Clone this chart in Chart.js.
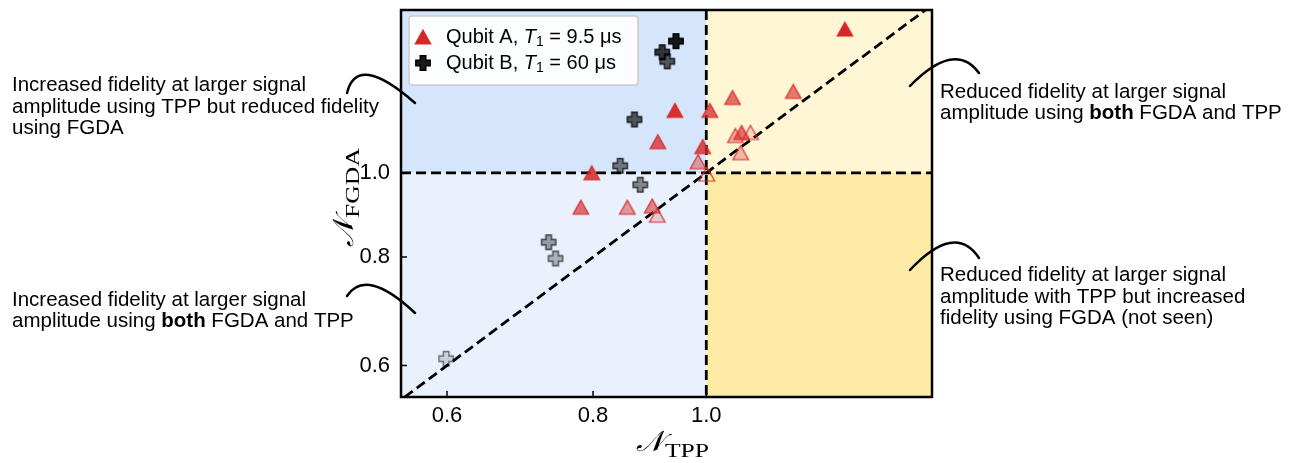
<!DOCTYPE html>
<html>
<head>
<meta charset="utf-8">
<script src="https://cdn.jsdelivr.net/npm/chart.js@4.4.1/dist/chart.umd.min.js"></script>
<style>
  html, body { margin: 0; padding: 0; background: #fff; }
</style>
</head>
<body>
<canvas id="myChart" width="1301" height="463"></canvas>
<script>
// Qubit A (T1 = 9.5 us): normalised fidelities
const qubitA_tpp  = [1.314, 1.187, 1.053, 1.007, 0.940, 0.909, 0.993, 0.984, 1.001, 1.059, 1.072, 1.091, 1.070, 0.798, 0.781, 0.856, 0.899, 0.908];
const qubitA_fgda = [1.464, 1.241, 1.221, 1.180, 1.180, 1.086, 1.072, 1.030, 0.997, 1.104, 1.113, 1.113, 1.055, 1.000, 0.913, 0.913, 0.916, 0.894];
// Qubit B (T1 = 60 us)
const qubitB_tpp  = [0.942, 0.917, 0.926, 0.868, 0.844, 0.878, 0.733, 0.743, 0.599];
const qubitB_fgda = [1.418, 1.377, 1.344, 1.152, 1.019, 0.969, 0.832, 0.797, 0.611];

// marker opacity per point (style only)
const qubitA_shade = [1.0, 0.6, 0.65, 0.75, 0.95, 0.75, 0.8, 0.4, 0.0, 0.35, 0.65, 0.15, 0.3, 0.85, 0.65, 0.45, 0.55, 0.2];
const qubitB_shade = [1.0, 0.85, 0.7, 0.7, 0.55, 0.5, 0.4, 0.3, 0.15];

const tickValues = [0.6, 0.8, 1.0];
const legendNames = ['Qubit A', 'Qubit B'];
const legendT1 = ['9.5', '60'];

const SANS = '"Liberation Sans", Arial, sans-serif';
const SERIF = '"DejaVu Serif", "Liberation Serif", serif';
const RED = '214,39,40';

function makeTri(a) {
  const c = document.createElement('canvas');
  c.width = 22; c.height = 22;
  const g = c.getContext('2d');
  g.translate(11, 11);
  g.beginPath();
  g.moveTo(0, -7); g.lineTo(7.8, 7); g.lineTo(-7.8, 7); g.closePath();
  g.fillStyle = 'rgba(' + RED + ',' + a + ')';
  g.fill();
  g.lineWidth = 1.2;
  g.strokeStyle = 'rgba(' + RED + ',0.95)';
  g.stroke();
  return c;
}

function makePlus(a) {
  const c = document.createElement('canvas');
  c.width = 22; c.height = 22;
  const g = c.getContext('2d');
  const h = 7.2, w = 2.8;
  g.translate(11, 11);
  g.beginPath();
  g.moveTo(-w, -h); g.lineTo(w, -h); g.lineTo(w, -w); g.lineTo(h, -w); g.lineTo(h, w); g.lineTo(w, w);
  g.lineTo(w, h); g.lineTo(-w, h); g.lineTo(-w, w); g.lineTo(-h, w); g.lineTo(-h, -w); g.lineTo(-w, -w);
  g.closePath();
  g.fillStyle = 'rgba(0,0,0,' + (a * 0.9) + ')';
  g.fill();
  g.lineWidth = 1.4;
  g.strokeStyle = 'rgba(0,0,0,' + (0.45 + 0.55 * a) + ')';
  g.stroke();
  return c;
}

function toPoints(xs, ys) {
  return xs.map((v, i) => ({x: v, y: ys[i]}));
}

// text with bold pieces
function drawRich(ctx, parts, x, y, size) {
  let cx = x;
  parts.forEach(p => {
    ctx.font = (p[1] ? 'bold ' : '') + size + 'px ' + SANS;
    ctx.fillText(p[0], cx, y);
    cx += ctx.measureText(p[0]).width;
  });
}

function curve(ctx, x0, y0, cx, cy, x1, y1) {
  ctx.beginPath();
  ctx.moveTo(x0, y0);
  ctx.quadraticCurveTo(cx, cy, x1, y1);
  ctx.stroke();
}

function drawNLabel(ctx, sub, x, y, angle) {
  const stretch = 1.35;
  ctx.save();
  ctx.translate(x, y);
  ctx.rotate(angle);
  ctx.fillStyle = '#000';
  ctx.textBaseline = 'alphabetic';
  ctx.font = 'italic 29px ' + SERIF;
  const n = '\u{1D4A9}';
  const wN = ctx.measureText(n).width;
  ctx.font = '19px "Liberation Serif", serif';
  const wS = ctx.measureText(sub).width * stretch;
  const start = -(wN + wS) / 2;
  ctx.font = 'italic 29px ' + SERIF;
  ctx.fillText(n, start, 0);
  ctx.font = '19px "Liberation Serif", serif';
  ctx.translate(start + wN + 1, 6);
  ctx.scale(stretch, 1);
  ctx.fillText(sub, 0, 0);
  ctx.restore();
}

const decor = {
  id: 'decor',
  beforeDatasetsDraw(chart) {
    const {ctx, chartArea: {left, right, top, bottom}, scales: {x, y}} = chart;
    const x1 = x.getPixelForValue(1), y1 = y.getPixelForValue(1);
    ctx.save();
    ctx.fillStyle = '#d5e5fb'; ctx.fillRect(left, top, x1 - left, y1 - top);
    ctx.fillStyle = '#e9f1fd'; ctx.fillRect(left, y1, x1 - left, bottom - y1);
    ctx.fillStyle = '#fff6d6'; ctx.fillRect(x1, top, right - x1, y1 - top);
    ctx.fillStyle = '#ffeba6'; ctx.fillRect(x1, y1, right - x1, bottom - y1);

    ctx.strokeStyle = '#000';
    ctx.lineWidth = 2.8;
    ctx.setLineDash([10, 5]);
    ctx.beginPath();
    ctx.moveTo(left, y1); ctx.lineTo(right, y1);
    ctx.moveTo(x1, top); ctx.lineTo(x1, bottom);
    const lo = Math.max(x.min, y.min), hi = Math.min(x.max, y.max);
    ctx.moveTo(x.getPixelForValue(lo), y.getPixelForValue(lo));
    ctx.lineTo(x.getPixelForValue(hi), y.getPixelForValue(hi));
    ctx.stroke();
    ctx.restore();
  },
  afterDatasetsDraw(chart) {
    const {ctx, chartArea: {left, right, top, bottom}, scales: {x, y}} = chart;
    ctx.save();
    ctx.strokeStyle = '#000';
    ctx.lineWidth = 1.5;
    ctx.beginPath();
    tickValues.forEach(v => {
      const px = x.getPixelForValue(v);
      ctx.moveTo(px, bottom); ctx.lineTo(px, bottom - 6);
      const py = y.getPixelForValue(v);
      ctx.moveTo(left, py); ctx.lineTo(left + 6, py);
    });
    ctx.stroke();
    ctx.lineWidth = 2.5;
    ctx.strokeRect(left, top, right - left, bottom - top);

    // legend
    const lx = 409, ly = 16, lw = 229, lh = 69;
    ctx.fillStyle = 'rgba(255,255,255,0.92)';
    ctx.strokeStyle = '#cccccc';
    ctx.lineWidth = 1.5;
    ctx.beginPath();
    ctx.roundRect(lx, ly, lw, lh, 3);
    ctx.fill();
    ctx.stroke();
    ctx.drawImage(makeTri(1), 423 - 11, 37 - 11);
    ctx.drawImage(makePlus(1), 423 - 11, 63 - 11);
    ctx.fillStyle = '#000';
    ctx.textBaseline = 'middle';
    [37, 63].forEach((yy, i) => {
      let cx = 446;
      ctx.font = '20px ' + SANS;
      const s1 = legendNames[i] + ', ';
      ctx.fillText(s1, cx, yy); cx += ctx.measureText(s1).width;
      ctx.font = 'italic 20px ' + SANS;
      ctx.fillText('T', cx, yy); cx += ctx.measureText('T').width;
      ctx.font = '14px ' + SANS;
      ctx.fillText('1', cx, yy + 5); cx += ctx.measureText('1').width;
      ctx.font = '20px ' + SANS;
      ctx.fillText(' = ' + legendT1[i] + ' \u03bcs', cx, yy);
    });
    ctx.restore();
  },
  afterDraw(chart) {
    const ctx = chart.ctx;
    ctx.save();
    ctx.fillStyle = '#000';
    ctx.textBaseline = 'middle';
    const fs = 20.5;
    drawRich(ctx, [['Increased fidelity at larger signal', false]], 12, 85, fs);
    drawRich(ctx, [['amplitude using TPP but reduced fidelity', false]], 12, 107, fs);
    drawRich(ctx, [['using FGDA', false]], 12, 128, fs);

    drawRich(ctx, [['Increased fidelity at larger signal', false]], 12, 300, fs);
    drawRich(ctx, [['amplitude using ', false], ['both', true], [' FGDA and TPP', false]], 12, 321, fs);

    drawRich(ctx, [['Reduced fidelity at larger signal', false]], 940, 92, fs);
    drawRich(ctx, [['amplitude using ', false], ['both', true], [' FGDA and TPP', false]], 940, 113, fs);

    drawRich(ctx, [['Reduced fidelity at larger signal', false]], 940, 275, fs);
    drawRich(ctx, [['amplitude with TPP but increased', false]], 940, 297, fs);
    drawRich(ctx, [['fidelity using FGDA (not seen)', false]], 940, 318, fs);

    ctx.strokeStyle = '#000';
    ctx.lineWidth = 2.5;
    ctx.lineCap = 'round';
    curve(ctx, 347, 93, 357, 52, 415, 103);
    curve(ctx, 347, 296, 366, 267, 415, 313);
    curve(ctx, 910, 86, 955, 40, 979, 73);
    curve(ctx, 910, 270, 955, 222, 979, 258);

    drawNLabel(ctx, 'TPP', 672, 451, 0);
    drawNLabel(ctx, 'FGDA', 353, 198, -Math.PI / 2);
    ctx.restore();
  }
};

const data = {
  datasets: [
    {
      label: 'Qubit A',
      data: toPoints(qubitA_tpp, qubitA_fgda),
      pointStyle: qubitA_shade.map(makeTri),
      showLine: false
    },
    {
      label: 'Qubit B',
      data: toPoints(qubitB_tpp, qubitB_fgda),
      pointStyle: qubitB_shade.map(makePlus),
      showLine: false
    }
  ]
};

const tickOpts = {
  callback: v => Number(v).toFixed(1),
  font: {size: 22, family: SANS},
  color: '#000',
  autoSkip: false,
  maxRotation: 0
};

const config = {
  type: 'scatter',
  data: data,
  options: {
    responsive: false,
    animation: false,
    events: [],
    layout: {padding: {left: 341, right: 369, top: 10, bottom: 0}},
    plugins: {
      legend: {display: false},
      tooltip: {enabled: false}
    },
    scales: {
      x: {
        type: 'logarithmic',
        min: 0.548,
        max: 1.56,
        grid: {display: false, drawTicks: false},
        border: {display: false},
        ticks: Object.assign({padding: 6}, tickOpts),
        afterBuildTicks: s => { s.ticks = tickValues.map(v => ({value: v})); },
        afterFit: s => { s.height = 66; s.paddingLeft = 0; s.paddingRight = 0; }
      },
      y: {
        type: 'logarithmic',
        min: 0.552,
        max: 1.54,
        grid: {display: false, drawTicks: false},
        border: {display: false},
        ticks: Object.assign({padding: 11}, tickOpts),
        afterBuildTicks: s => { s.ticks = tickValues.map(v => ({value: v})); },
        afterFit: s => { s.width = 60; s.paddingTop = 0; s.paddingBottom = 0; }
      }
    }
  },
  plugins: [decor]
};

const myChart = new Chart(document.getElementById('myChart').getContext('2d'), config);
</script>
</body>
</html>
